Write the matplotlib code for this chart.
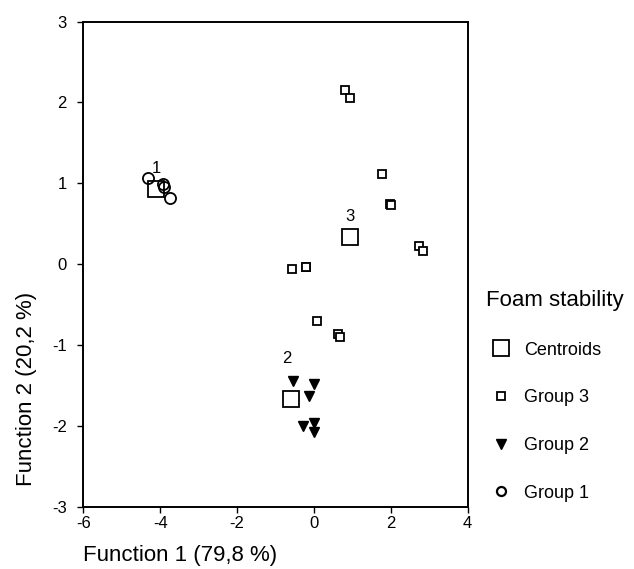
import matplotlib.pyplot as plt
from matplotlib.lines import Line2D

plt.rcParams["font.family"] = ["Liberation Sans", "DejaVu Sans"]
plt.rcParams["axes.unicode_minus"] = False

# === Data (discriminant scores) ===
group1_x = [-4.31, -3.93, -3.91, -3.76]
group1_y = [1.07, 0.99, 0.96, 0.82]

group2_x = [-0.55, 0.00, -0.13, -0.29, -0.01, 0.00]
group2_y = [-1.44, -1.48, -1.63, -2.00, -1.96, -2.08]

group3_x = [0.81, 0.93, 1.77, 1.99, 2.01, 2.72, 2.83, -0.57, -0.22, -0.21, 0.08, 0.62, 0.67]
group3_y = [2.15, 2.06, 1.12, 0.74, 0.73, 0.22, 0.16, -0.06, -0.03, -0.04, -0.70, -0.86, -0.90]

centroid_x = [-4.11, -0.59, 0.93]
centroid_y = [0.925, -1.67, 0.33]
centroid_labels = ["1", "2", "3"]

# label offsets from centroid, in points
label_offsets = [(0, 15), (-3, 29), (0, 15)]

# === Figure ===
fig = plt.figure(figsize=(6.34, 5.69), dpi=100)
ax = fig.add_axes([0.1317, 0.1095, 0.606, 0.8525])

ax.plot(group3_x, group3_y, linestyle="none", marker="s", markersize=5.5,
        markerfacecolor="white", markeredgecolor="black", markeredgewidth=1.3)
ax.plot(group2_x, group2_y, linestyle="none", marker="v", markersize=7,
        color="black")
ax.plot(group1_x, group1_y, linestyle="none", marker="o", markersize=8,
        markerfacecolor="none", markeredgecolor="black", markeredgewidth=1.3)
ax.plot(centroid_x, centroid_y, linestyle="none", marker="s", markersize=11.5,
        markerfacecolor="none", markeredgecolor="black", markeredgewidth=1.3)

for cx, cy, lab, off in zip(centroid_x, centroid_y, centroid_labels, label_offsets):
    ax.annotate(lab, (cx, cy), xytext=off, textcoords="offset points",
                ha="center", va="center", fontsize=12)

ax.set_xlim(-6, 4)
ax.set_ylim(-3, 3)
ax.set_xticks([-6, -4, -2, 0, 2, 4])
ax.set_yticks([-3, -2, -1, 0, 1, 2, 3])
ax.tick_params(direction="out", length=4, width=1, labelsize=12)
ax.tick_params(axis="x", pad=3)
ax.tick_params(axis="y", pad=8)
for s in ax.spines.values():
    s.set_linewidth(1.4)

ax.set_xlabel("Function 1 (79,8 %)", fontsize=16, loc="left", labelpad=10)
ax.set_ylabel("Function 2 (20,2 %)", fontsize=16)
ax.yaxis.set_label_coords(-0.122, 0.243)

# === Legend ===
handles = [
    Line2D([], [], linestyle="none", marker="s", markersize=11.5,
           markerfacecolor="none", markeredgecolor="black", markeredgewidth=1.3),
    Line2D([], [], linestyle="none", marker="s", markersize=5.5,
           markerfacecolor="white", markeredgecolor="black", markeredgewidth=1.3),
    Line2D([], [], linestyle="none", marker="v", markersize=7, color="black"),
    Line2D([], [], linestyle="none", marker="o", markersize=6.5,
           markerfacecolor="none", markeredgecolor="black", markeredgewidth=1.6),
]
labels = ["Centroids", "Group 3", "Group 2", "Group 1"]
leg = fig.legend(handles, labels, title="Foam stability", loc="upper left",
                 bbox_to_anchor=(0.7555, 0.503), frameon=False, fontsize=13,
                 title_fontsize=16, labelspacing=1.7, handletextpad=0.5,
                 handlelength=1.6, borderaxespad=0)
leg._legend_box.align = "left"

fig.savefig("out.png", dpi=100)
